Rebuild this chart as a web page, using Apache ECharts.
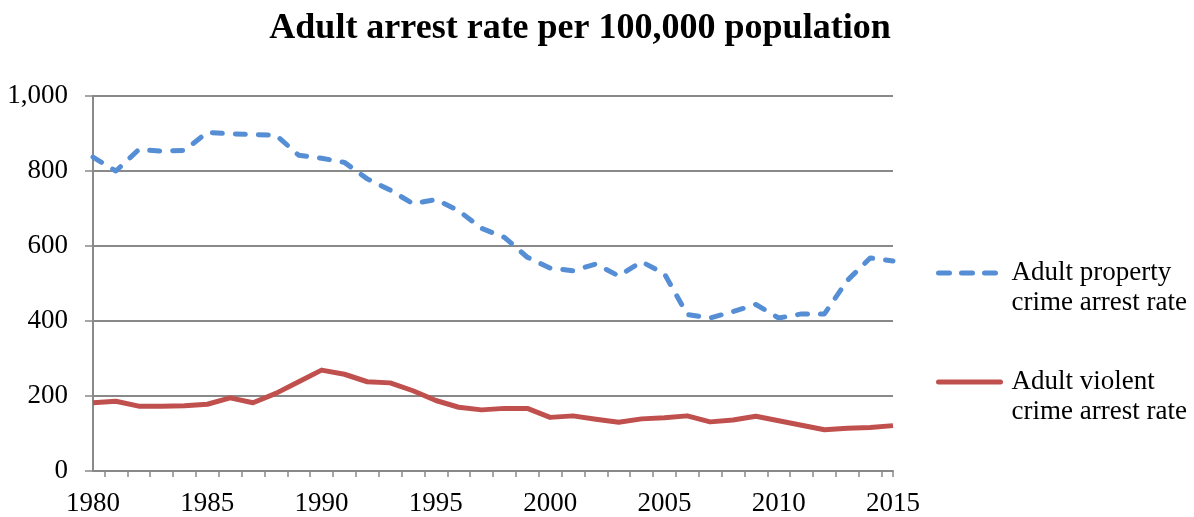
<!DOCTYPE html>
<html>
<head>
<meta charset="utf-8">
<script src="https://cdn.jsdelivr.net/npm/echarts@6/dist/echarts.min.js"></script>
<style>
    html, body { margin: 0; padding: 0; background: #fff; }
    #chart { width: 1194px; height: 517px; }
</style>
</head>
<body>
<div id="chart"></div>
<script>
// years 1980..2015
const years = [1980, 1981, 1982, 1983, 1984, 1985, 1986, 1987, 1988, 1989,
    1990, 1991, 1992, 1993, 1994, 1995, 1996, 1997, 1998, 1999,
    2000, 2001, 2002, 2003, 2004, 2005, 2006, 2007, 2008, 2009,
    2010, 2011, 2012, 2013, 2014, 2015]

// adult property crime arrest rate
const propertyRate = [837, 800, 857, 853, 855, 903, 899, 897, 896, 842,
    834, 823, 779, 749, 713, 724, 694, 647, 623, 570,
    541, 534, 552, 520, 558, 526, 417, 408, 425, 444,
    408, 419, 419, 508, 568, 560]

// adult violent crime arrest rate
const violentRate = [182, 186, 173, 173, 174, 178, 195, 182, 207, 238,
    269, 258, 238, 235, 214, 188, 170, 163, 167, 167,
    143, 147, 138, 130, 139, 142, 147, 131, 136, 146,
    134, 122, 110, 114, 116, 121]

const xLabels = [1980, 1985, 1990, 1995, 2000, 2005, 2010, 2015]
// tick marks sit between the years (plus one at the right end)
const xTicks = years.slice(0, -1).map(y => y + 0.5).concat([2015])

const seriesNames = ['Adult property\ncrime arrest rate', 'Adult violent\ncrime arrest rate']

const serif = '"Liberation Serif", "DejaVu Serif", serif'
const gray = '#898989'

const chart = echarts.init(document.getElementById('chart'))

const option = {
    backgroundColor: '#fff',
    animation: false,
    title: {
        text: 'Adult arrest rate per 100,000 population',
        left: 575,
        textAlign: 'center',
        top: 6,
        textStyle: {
            fontFamily: serif,
            fontWeight: 'bold',
            fontSize: 36,
            color: '#000'
        }
    },
    grid: {
        left: 93,
        right: 301,
        top: 96,
        bottom: 46,
        containLabel: false
    },
    legend: {
        orient: 'vertical',
        left: 936,
        top: 228,
        padding: 0,
        itemWidth: 62,
        itemHeight: 6,
        itemGap: 19,
        itemStyle: { opacity: 0 },
        lineStyle: { width: 5, cap: 'round' },
        // blank first line so the icon lines up with the first text line
        formatter: name => '{t| }\n{t|' + name.split('\n').join('}\n{t|') + '}',
        textStyle: {
            fontFamily: serif,
            fontSize: 27,
            lineHeight: 30,
            color: '#000',
            rich: {
                t: {
                    fontFamily: serif,
                    fontSize: 27,
                    lineHeight: 30,
                    color: '#000',
                    padding: [0, 0, 0, 6]
                }
            }
        },
        data: [
            { name: seriesNames[0], lineStyle: { type: [11, 12] } },
            { name: seriesNames[1] }
        ]
    },
    xAxis: {
        type: 'value',
        min: 1980,
        max: 2015,
        splitLine: { show: false },
        axisLine: { lineStyle: { color: gray, width: 2 } },
        axisTick: {
            show: true,
            length: 6,
            customValues: xTicks,
            lineStyle: { color: gray, width: 1.5 }
        },
        axisLabel: {
            customValues: xLabels,
            formatter: v => String(v),
            fontFamily: serif,
            fontSize: 27,
            color: '#000',
            margin: 19
        }
    },
    yAxis: {
        type: 'value',
        min: 0,
        max: 1000,
        interval: 200,
        axisLine: { show: true, lineStyle: { color: gray, width: 2 } },
        axisTick: { show: true, length: 8, lineStyle: { color: gray, width: 1.5 } },
        splitLine: { lineStyle: { color: gray, width: 2 } },
        axisLabel: {
            formatter: v => v.toLocaleString('en-US'),
            fontFamily: serif,
            fontSize: 27,
            color: '#000',
            margin: 25
        }
    },
    series: [
        {
            name: seriesNames[0],
            type: 'line',
            symbol: 'none',
            data: years.map((y, i) => [y, propertyRate[i]]),
            lineStyle: {
                color: '#558ED5',
                width: 5,
                type: [10, 13],
                cap: 'round',
                join: 'round'
            },
            itemStyle: { color: '#558ED5' }
        },
        {
            name: seriesNames[1],
            type: 'line',
            symbol: 'none',
            data: years.map((y, i) => [y, violentRate[i]]),
            lineStyle: {
                color: '#C0504D',
                width: 5,
                join: 'round'
            },
            itemStyle: { color: '#C0504D' }
        }
    ]
}

chart.setOption(option)
</script>
</body>
</html>
